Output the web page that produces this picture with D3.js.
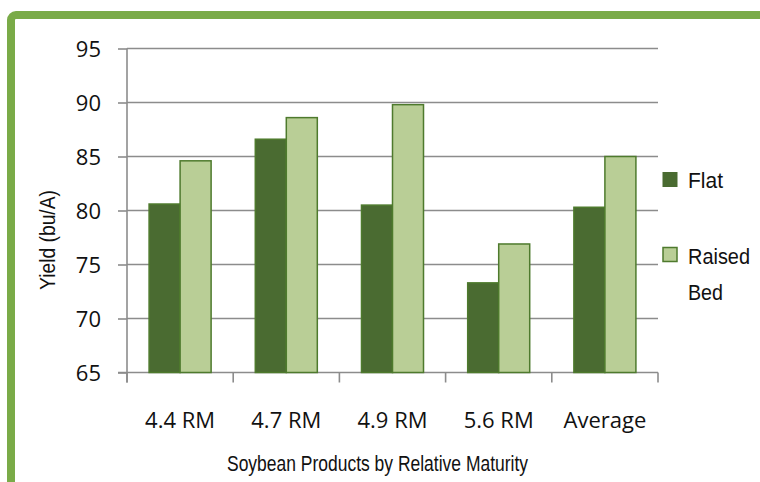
<!DOCTYPE html>
<html>
<head>
<meta charset="utf-8">
<script src="https://cdn.jsdelivr.net/npm/d3@7"></script>
<style>
  html, body { margin: 0; padding: 0; background: #fff; }
  svg { display: block; }
</style>
</head>
<body>
<svg id="chart" width="760" height="482"></svg>
<script>
// Soybean yield by relative maturity, flat vs raised bed
const categories = ["4.4 RM", "4.7 RM", "4.9 RM", "5.6 RM", "Average"];
const seriesNames = ["Flat", "Raised Bed"];
const flatYield = [80.6, 86.6, 80.5, 73.3, 80.3];
const raisedYield = [84.6, 88.6, 89.8, 76.9, 85.0];
const yTicks = [65, 70, 75, 80, 85, 90, 95];

const colors = { flat: "#4a6b31", raised: "#b9ce96", edge: "#4e7a2d", frame: "#7aab48", grid: "#8c8c8c" };

const svg = d3.select("#chart");

// frame: green border running along the top and left edges
svg.append("rect")
  .attr("x", 11).attr("y", 15)
  .attr("width", 820).attr("height", 520)
  .attr("rx", 5)
  .attr("fill", "#fff")
  .attr("stroke", colors.frame)
  .attr("stroke-width", 8);

const plot = { left: 127, right: 658, top: 48.5, bottom: 372.5 };

const x0 = d3.scaleBand()
  .domain(categories)
  .range([plot.left, plot.right])
  .paddingInner(0.416)
  .paddingOuter(0.208);

const x1 = d3.scaleBand()
  .domain(seriesNames)
  .range([0, x0.bandwidth()])
  .padding(0);

const y = d3.scaleLinear()
  .domain([65, 95])
  .range([plot.bottom, plot.top]);

// horizontal gridlines
svg.append("g")
  .selectAll("line")
  .data(yTicks.slice(1))
  .join("line")
  .attr("x1", plot.left).attr("x2", plot.right)
  .attr("y1", d => y(d)).attr("y2", d => y(d))
  .attr("stroke", colors.grid)
  .attr("stroke-width", 1.6);

// y axis
const yAxis = svg.append("g")
  .attr("transform", `translate(${plot.left},0)`)
  .call(d3.axisLeft(y).tickValues(yTicks).tickSize(9).tickPadding(17).tickSizeOuter(0));
yAxis.select(".domain").attr("stroke", colors.grid).attr("stroke-width", 1.6)
  .attr("d", `M0,${plot.top}V${plot.bottom + 10}`);
yAxis.selectAll(".tick line").attr("stroke", colors.grid).attr("stroke-width", 1.6);
yAxis.selectAll(".tick text")
  .attr("font-family", "'Open Sans', sans-serif")
  .attr("font-size", 22)
  .attr("fill", "#111")
  .attr("dy", "0.36em");

// x axis with ticks at the category boundaries
const xAxisG = svg.append("g");
xAxisG.append("line")
  .attr("x1", plot.left - 9).attr("x2", plot.right)
  .attr("y1", plot.bottom).attr("y2", plot.bottom)
  .attr("stroke", colors.grid).attr("stroke-width", 1.6);
const boundaries = categories.map(c => x0(c) - x0.step() * x0.paddingInner() / 2)
  .concat([plot.right]);
xAxisG.selectAll("line.tick")
  .data(boundaries)
  .join("line")
  .attr("class", "tick")
  .attr("x1", d => d).attr("x2", d => d)
  .attr("y1", plot.bottom).attr("y2", plot.bottom + 10)
  .attr("stroke", colors.grid).attr("stroke-width", 1.6);
xAxisG.selectAll("text")
  .data(categories)
  .join("text")
  .attr("x", d => x0(d) + x0.bandwidth() / 2)
  .attr("y", 428)
  .attr("text-anchor", "middle")
  .attr("font-family", "'Open Sans', sans-serif")
  .attr("font-size", 22)
  .attr("fill", "#111")
  .text(d => d);

// bars
const rows = categories.map((c, i) => ({
  category: c,
  values: [
    { key: "Flat", value: flatYield[i], fill: colors.flat },
    { key: "Raised Bed", value: raisedYield[i], fill: colors.raised }
  ]
}));

svg.append("g")
  .selectAll("g")
  .data(rows)
  .join("g")
  .attr("transform", d => `translate(${x0(d.category)},0)`)
  .selectAll("rect")
  .data(d => d.values)
  .join("rect")
  .attr("x", d => x1(d.key))
  .attr("y", d => y(d.value))
  .attr("width", x1.bandwidth())
  .attr("height", d => plot.bottom - y(d.value))
  .attr("fill", d => d.fill)
  .attr("stroke", colors.edge)
  .attr("stroke-width", 1.5);

// axis titles (narrow sans, squeezed to width)
svg.append("text")
  .attr("x", 377.5)
  .attr("y", 470.5)
  .attr("text-anchor", "middle")
  .attr("font-family", "'Liberation Sans', Arial, sans-serif")
  .attr("font-size", 22.5)
  .attr("textLength", 301)
  .attr("lengthAdjust", "spacingAndGlyphs")
  .attr("fill", "#111")
  .text("Soybean Products by Relative Maturity");

svg.append("text")
  .attr("transform", "translate(55,240) rotate(-90)")
  .attr("text-anchor", "middle")
  .attr("font-family", "'Liberation Sans', Arial, sans-serif")
  .attr("font-size", 21.5)
  .attr("textLength", 100)
  .attr("lengthAdjust", "spacingAndGlyphs")
  .attr("fill", "#111")
  .text("Yield (bu/A)");

// legend
const legend = svg.append("g").attr("font-family", "'Liberation Sans', Arial, sans-serif")
  .attr("font-size", 22.5).attr("fill", "#111");
legend.append("rect")
  .attr("x", 662.5).attr("y", 172).attr("width", 15).attr("height", 15)
  .attr("fill", colors.flat);
legend.append("text").attr("x", 688).attr("y", 187.5)
  .attr("textLength", 35).attr("lengthAdjust", "spacingAndGlyphs")
  .text(seriesNames[0]);
legend.append("rect")
  .attr("x", 663).attr("y", 247.5).attr("width", 14).attr("height", 14)
  .attr("fill", colors.raised).attr("stroke", colors.edge).attr("stroke-width", 1.5);
legend.append("text").attr("x", 688).attr("y", 264)
  .attr("textLength", 62).attr("lengthAdjust", "spacingAndGlyphs")
  .text("Raised");
legend.append("text").attr("x", 688).attr("y", 300)
  .attr("textLength", 35).attr("lengthAdjust", "spacingAndGlyphs")
  .text("Bed");
</script>
</body>
</html>
